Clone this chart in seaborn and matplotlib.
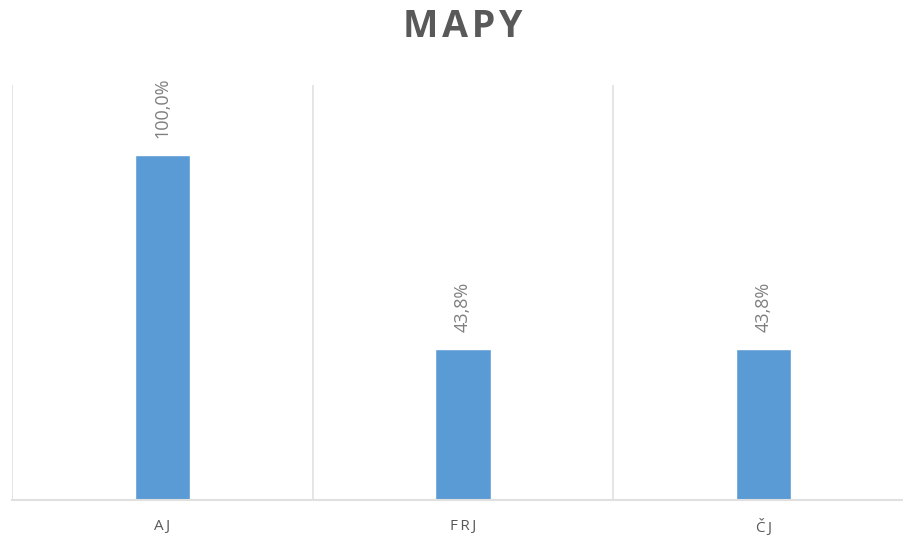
import matplotlib
matplotlib.use("Agg")
import matplotlib.pyplot as plt
import seaborn as sns
import pandas as pd

categories = ["AJ", "FRJ", "ČJ"]
values = [100.0, 43.8, 43.8]
value_labels = ["100,0%", "43,8%", "43,8%"]
title = "MAPY"

bar_color = "#5B9BD5"
grid_color = "#E0E0E0"
text_color = "#595959"

sns.set_theme(style="white")
plt.rcParams["font.family"] = ["Open Sans", "DejaVu Sans"]

df = pd.DataFrame({"cat": categories, "val": values})

fig = plt.figure(figsize=(9.04, 5.35), dpi=100)
W, H = 904, 535
# axes spans from x=12 to x=914 px (runs past the right edge), y from 85 to 500 px
ax = fig.add_axes([12 / W, 35 / H, 902 / W, 415 / H])

sns.barplot(data=df, x="cat", y="val", color=bar_color, width=0.183,
            saturation=1, ax=ax)

ax.set_xlim(-0.5, 2.5)
ax.set_ylim(0, 120.3)

# category separators
for xb in [-0.5, 0.5, 1.5, 2.5]:
    ax.axvline(xb, color=grid_color, lw=1.2, zorder=0)

for side in ["top", "right", "left"]:
    ax.spines[side].set_visible(False)
ax.spines["bottom"].set_color(grid_color)
ax.spines["bottom"].set_linewidth(1.5)

ax.set_yticks([])
ax.set_xlabel("")
ax.set_ylabel("")
ax.tick_params(axis="x", length=0, pad=14)
ax.set_xticks(range(len(categories)))
ax.set_xticklabels(["\u2009".join(c) for c in categories], fontsize=11,
                   color=text_color)

for i, (v, lab) in enumerate(zip(values, value_labels)):
    ax.annotate(lab, (i, v), xytext=(0, 12), textcoords="offset points",
                rotation=90, ha="center", va="bottom", fontsize=13,
                color="#7F7F7F")

fig.text(463 / W, 1 - 27 / H, "\u200a".join(title), ha="center", va="center",
         fontsize=27, fontweight="bold", color=text_color)

fig.savefig("out.png", dpi=100, facecolor="white")
